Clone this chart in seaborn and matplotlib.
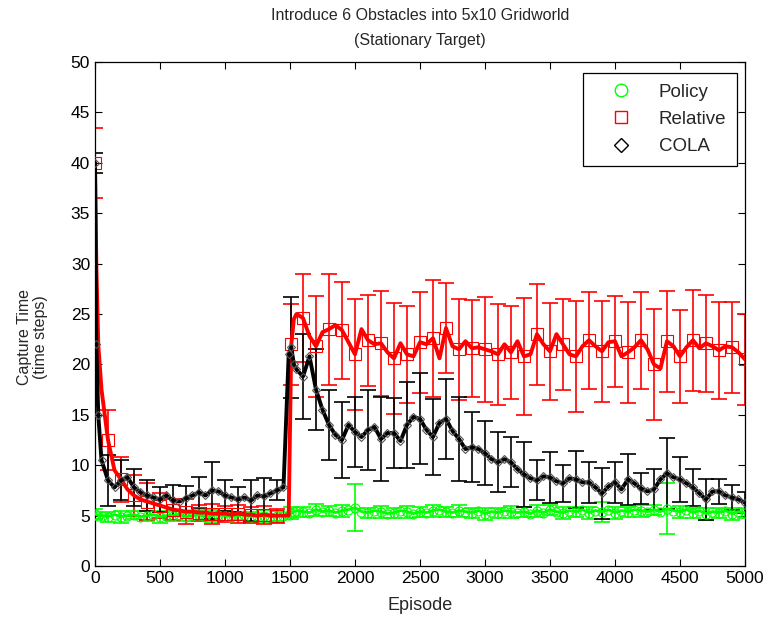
import numpy as np
import pandas as pd
import matplotlib
matplotlib.use("Agg")
import matplotlib.pyplot as plt
import seaborn as sns
from matplotlib.lines import Line2D

# ---------------- data ----------------
episodes = [0, 10, 25, 50, 100, 150, 200, 250, 300, 350,
            400, 450, 500, 550, 600, 650, 700, 750, 800, 850,
            900, 950, 1000, 1050, 1100, 1150, 1200, 1250, 1300, 1350,
            1400, 1450, 1490, 1510, 1530, 1550, 1600, 1650, 1700, 1750,
            1800, 1850, 1900, 1950, 2000, 2050, 2100, 2150, 2200, 2250,
            2300, 2350, 2400, 2450, 2500, 2550, 2600, 2650, 2700, 2750,
            2800, 2850, 2900, 2950, 3000, 3050, 3100, 3150, 3200, 3250,
            3300, 3350, 3400, 3450, 3500, 3550, 3600, 3650, 3700, 3750,
            3800, 3850, 3900, 3950, 4000, 4050, 4100, 4150, 4200, 4250,
            4300, 4350, 4400, 4450, 4500, 4550, 4600, 4650, 4700, 4750,
            4800, 4850, 4900, 4950, 5000]

policy = [5.2, 5.1, 5.0, 5.0, 4.9, 5.1, 4.9, 5.0, 5.1, 4.9,
          5.0, 5.1, 4.9, 5.0, 5.0, 5.1, 4.9, 5.0, 5.1, 4.9,
          5.0, 5.1, 5.0, 4.9, 5.0, 5.1, 4.9, 5.0, 5.0, 4.9,
          5.0, 5.0, 5.1, 5.3, 5.4, 5.5, 5.4, 5.3, 5.6, 5.4,
          5.5, 5.3, 5.5, 5.6, 5.8, 5.4, 5.3, 5.5, 5.4, 5.2,
          5.3, 5.5, 5.4, 5.2, 5.4, 5.3, 5.5, 5.6, 5.4, 5.3,
          5.5, 5.4, 5.3, 5.5, 5.2, 5.4, 5.3, 5.5, 5.4, 5.3,
          5.4, 5.2, 5.5, 5.3, 5.6, 5.4, 5.3, 5.5, 5.4, 5.6,
          5.3, 5.5, 5.4, 5.6, 5.3, 5.5, 5.4, 5.6, 5.5, 5.4,
          5.6, 5.4, 5.7, 5.5, 5.4, 5.6, 5.3, 5.5, 5.2, 5.4,
          5.3, 5.5, 5.2, 5.4, 5.3]

relative = [40.0, 30.0, 22.0, 17.5, 12.5, 9.5, 8.6, 7.6, 7.0, 6.6,
            6.4, 6.2, 6.0, 5.8, 5.6, 5.5, 5.4, 5.4, 5.3, 5.3,
            5.2, 5.2, 5.2, 5.1, 5.2, 5.1, 5.1, 5.0, 5.1, 5.0,
            5.0, 5.0, 5.0, 22.0, 24.5, 25.0, 24.6, 22.8, 21.8, 23.2,
            23.5, 23.9, 23.4, 22.2, 21.0, 23.5, 22.4, 22.0, 22.1, 21.2,
            20.6, 22.1, 21.0, 20.8, 22.2, 22.0, 22.6, 20.6, 23.6, 21.8,
            21.5, 22.3, 21.6, 21.7, 21.5, 21.3, 21.0, 22.0, 21.2, 22.3,
            20.8, 21.0, 23.0, 22.0, 21.3, 23.0, 22.0, 21.0, 20.8, 21.8,
            22.4, 21.8, 21.3, 22.2, 22.3, 20.8, 21.2, 21.7, 22.4, 21.5,
            20.0, 19.6, 22.3, 21.8, 20.8, 21.7, 22.4, 21.6, 22.1, 21.8,
            21.4, 21.8, 21.7, 21.2, 20.5]

cola = [40.0, 22.0, 15.0, 10.5, 8.5, 7.8, 8.5, 8.8, 7.8, 7.3,
        7.0, 6.8, 6.6, 7.0, 6.5, 6.4, 6.7, 7.0, 7.3, 7.0,
        7.5, 7.4, 7.0, 6.8, 6.6, 6.8, 6.5, 7.0, 6.9, 7.2,
        7.5, 7.8, 21.0, 21.7, 20.0, 19.5, 18.8, 20.8, 17.5, 15.5,
        14.0, 13.0, 12.5, 14.0, 13.3, 12.8, 13.5, 13.8, 12.6, 13.2,
        13.2, 12.4, 14.0, 14.8, 14.6, 13.5, 12.8, 14.2, 14.6, 13.4,
        12.6, 11.6, 11.8, 11.6, 11.2, 10.6, 10.3, 10.6, 10.3, 9.6,
        9.1, 8.7, 8.5, 8.9, 8.8, 8.4, 8.2, 8.7, 8.6, 8.3,
        8.3, 7.8, 7.2, 7.9, 8.3, 7.6, 8.6, 8.2, 7.7, 7.4,
        7.6, 8.6, 9.2, 8.8, 8.6, 8.2, 7.8, 7.2, 6.6, 7.4,
        7.4, 7.0, 6.8, 6.6, 6.3]

# error-bar episodes and half widths
err_episodes = [0, 100, 200, 300, 400, 500, 600, 700, 800, 900,
                1000, 1100, 1200, 1300, 1400, 1510, 1600, 1700, 1800, 1900,
                2000, 2100, 2200, 2300, 2400, 2500, 2600, 2700, 2800, 2900,
                3000, 3100, 3200, 3300, 3400, 3500, 3600, 3700, 3800, 3900,
                4000, 4100, 4200, 4300, 4400, 4500, 4600, 4700, 4800, 4900,
                5000]

policy_err = [0.5, 0.5, 0.6, 0.4, 0.5, 0.6, 0.5, 0.4, 0.5, 0.6,
              0.5, 0.4, 0.5, 0.6, 0.5, 0.6, 0.5, 0.6, 0.5, 0.6,
              2.3, 0.5, 0.6, 0.5, 0.6, 0.5, 0.6, 0.5, 0.6, 0.5,
              0.6, 0.5, 0.6, 0.5, 0.6, 0.5, 0.6, 0.5, 0.6, 1.0,
              0.6, 0.5, 0.6, 0.5, 2.5, 0.6, 0.5, 0.6, 0.5, 0.6,
              0.5]

relative_err = [3.5, 3.0, 2.2, 2.0, 1.8, 1.2, 1.0, 1.2, 0.8, 1.0,
                0.8, 0.9, 0.8, 0.9, 0.7, 4.0, 4.4, 5.0, 5.5, 4.8,
                5.5, 4.5, 5.2, 5.5, 4.8, 5.0, 5.8, 4.5, 5.0, 4.8,
                5.2, 5.0, 4.6, 5.8, 5.0, 4.8, 4.5, 5.5, 4.8, 5.0,
                4.5, 5.0, 4.8, 5.5, 5.0, 4.6, 5.0, 4.8, 4.8, 4.5,
                4.5]

cola_err = [1.0, 2.5, 2.0, 1.8, 1.5, 1.2, 1.5, 1.2, 1.5, 2.8,
            1.5, 1.2, 2.0, 1.8, 1.0, 5.0, 4.2, 4.0, 3.5, 3.8,
            3.5, 4.0, 4.2, 3.5, 4.3, 4.5, 3.8, 4.0, 4.2, 3.5,
            3.2, 3.0, 2.5, 3.2, 2.0, 2.5, 1.8, 2.8, 2.0, 2.5,
            2.0, 2.5, 1.5, 2.0, 3.5, 2.2, 1.8, 2.0, 1.2, 1.2,
            1.0]

series_names = ["Policy", "Relative", "COLA"]
colors = {"Policy": "#00ff00", "Relative": "#ff0000", "COLA": "#000000"}
markers = {"Policy": "o", "Relative": "s", "COLA": "D"}

# ---------------- figure ----------------
sns.set_style("ticks")
plt.rcParams["font.family"] = ["Liberation Sans", "DejaVu Sans"]

fig = plt.figure(figsize=(7.68, 6.22), dpi=100)
ax = fig.add_axes([0.1237, 0.09, 0.8463, 0.8103])

df = pd.DataFrame({"Episode": episodes, "Policy": policy,
                   "Relative": relative, "COLA": cola})
err_df = pd.DataFrame({"Episode": err_episodes, "Policy": policy_err,
                       "Relative": relative_err, "COLA": cola_err})

hundreds = [i for i, e in enumerate(episodes) if e % 100 == 0 or e == 1510]
line_w = {"Policy": 2.0, "Relative": 2.8, "COLA": 2.8}
msize = {"Policy": 6.5, "Relative": 9, "COLA": 4.5}
mevery = {"Policy": 1, "Relative": hundreds, "COLA": 1}

for name in series_names:
    c = colors[name]
    sns.lineplot(data=df, x="Episode", y=name, ax=ax, color=c,
                 linewidth=line_w[name], marker=markers[name],
                 markersize=msize[name], markerfacecolor="none",
                 markeredgecolor=c if name != "COLA" else "#555555",
                 markeredgewidth=0.8,
                 markevery=mevery[name], legend=False, zorder=3)
    sub = df.set_index("Episode").reindex(err_df["Episode"])[name]
    ax.errorbar(err_df["Episode"], sub.values, yerr=err_df[name].values,
                fmt="none", ecolor=c, elinewidth=1.2, capsize=6,
                capthick=1.2, zorder=2)

ax.set_xlim(0, 5000)
ax.set_ylim(0, 50)
ax.set_xticks(np.arange(0, 5001, 500))
ax.set_yticks(np.arange(0, 51, 5))
ax.tick_params(direction="in", top=True, right=True, length=5,
               width=0.8, labelsize=12.5, colors="black")
for s in ax.spines.values():
    s.set_visible(True)
    s.set_color("black")
    s.set_linewidth(0.9)

ax.set_xlabel("Episode", fontsize=13, labelpad=8)
ax.set_ylabel("Capture Time\n(time steps)", fontsize=11.5,
              linespacing=1.05)
ax.yaxis.set_label_coords(-0.073, 0.455)
ax.set_title("Introduce 6 Obstacles into 5x10 Gridworld\n(Stationary Target)",
             fontsize=11.5, pad=12, linespacing=1.9)

handles = [Line2D([], [], linestyle="none", marker=markers[n],
                  markersize=9 if n != "COLA" else 7,
                  markerfacecolor="none", markeredgecolor=colors[n],
                  markeredgewidth=1.0) for n in series_names]
leg = ax.legend(handles, series_names, loc="upper right",
                bbox_to_anchor=(0.996, 0.989), fontsize=13.5,
                frameon=True, fancybox=False, edgecolor="black",
                framealpha=1, borderpad=0.55, labelspacing=0.55,
                handlelength=3.0, handletextpad=0.5, borderaxespad=0.3)
leg.get_frame().set_linewidth(0.9)

fig.savefig("out.png", dpi=100)
